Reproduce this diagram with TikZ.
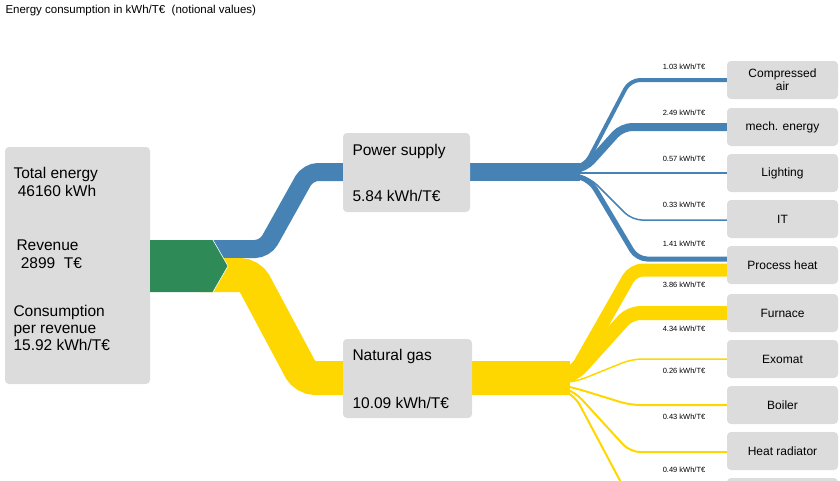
\documentclass[tikz,border=0pt]{standalone}
\usepackage{fontspec}
\setmainfont{Liberation Sans}
\begin{document}
\begin{tikzpicture}[x=1pt,y=-1pt,
  box/.style={fill=boxgray,rounded corners=4pt,inner sep=0pt},
  blue/.style={draw=flowblue,line width=#1,rounded corners=10pt},
  yel/.style={draw=flowyel,line width=#1,rounded corners=10pt},
  val/.style={font=\fontsize{7.5}{9}\selectfont,anchor=center},
  tgt/.style={font=\fontsize{12}{13}\selectfont,align=center}]
\definecolor{boxgray}{HTML}{DCDCDC}
\definecolor{flowblue}{HTML}{4682B4}
\definecolor{flowyel}{HTML}{FFD700}
\definecolor{green}{HTML}{2E8B57}
\useasboundingbox (0,0) rectangle (840,480);
\clip (0,0) rectangle (840,480);
\node[anchor=west,font=\fontsize{11.5}{13}\selectfont] (title) at (2,11) {Energy consumption in kWh/T€ \ (notional values)};
% boxes
\fill[boxgray,rounded corners=4pt] (5,147) rectangle (150,384);
\node[anchor=west,font=\fontsize{15.5}{17}\selectfont,align=left] (total) at (10,182) {Total energy\\[1pt]\ 46160 kWh};
\node[anchor=west,font=\fontsize{15.5}{17}\selectfont,align=left] (rev) at (13,254) {Revenue\\[1pt]\ 2899 \ T€};
\node[anchor=west,font=\fontsize{15.5}{17}\selectfont,align=left] (cons) at (10,328) {Consumption\\per revenue\\15.92 kWh/T€};
% main flows
\draw[blue=18pt] (200,249)--(265,249)--(308,172)--(350,172);
\draw[yel=34pt] (200,275)--(250,275)--(305,378)--(350,378);
\fill[green] (150,240)--(213,240)--(228,266)--(213,292)--(150,292)--cycle;
\draw[white,line width=0.6pt] (213,240)--(228,266)--(213,292);
% hubs
\draw[blue=18pt] (460,172)--(580,172);
\draw[yel=34pt] (460,378)--(570,378);
\coordinate (bh) at (578,172);
\coordinate (yh) at (566,380);
% blue branches
\draw[blue=4pt] (570,168)--(585,166)--(630,80)--(727,80);
\draw[blue=8pt] (570,170)--(585,168)--(622,127)--(727,127);
\draw[blue=2pt] (575,173)--(630,173)--(727,173);
\draw[blue=1.5pt] (575,174)--(590,178)--(632,220)--(727,220);
\draw[blue=5pt] (575,176)--(590,180)--(637,259)--(727,259);
% yellow branches
\draw[yel=13pt] (560,376)--(575,372)--(633,270)--(727,270);
\draw[yel=14pt] (560,378)--(575,374)--(630,313)--(727,313);
\draw[yel=1.5pt] (560,382)--(575,382)--(632,359)--(727,359);
\draw[yel=2pt] (560,385)--(575,388)--(630,405)--(727,405);
\draw[yel=2pt] (560,387)--(575,392)--(630,452)--(727,452);
\draw[yel=2pt] (560,389)--(575,396)--(625,490);
% source boxes
\node[box,minimum width=127pt,minimum height=79pt] (ps) at (406.5,172.5) {};
\node[anchor=west,font=\fontsize{15.5}{17}\selectfont] at (349,151) {Power supply};
\node[anchor=west,font=\fontsize{15.5}{17}\selectfont] at (349,196) {5.84 kWh/T€};
\node[box,minimum width=129pt,minimum height=79pt] (ng) at (407.5,378.5) {};
\node[anchor=west,font=\fontsize{15.5}{17}\selectfont] at (349,356) {Natural gas};
\node[anchor=west,font=\fontsize{15.5}{17}\selectfont] at (349,403) {10.09 kWh/T€};
% target boxes
\foreach \n/\y/\t in {ca/80/{Compressed\\air},me/127/{mech. energy},li/173/Lighting,it/219/IT,ph/265/Process heat,fu/313/Furnace,ex/359/Exomat,bo/405/Boiler,hr/451/Heat radiator,xx/497/{}}{
  \node[box,minimum width=111pt,minimum height=38pt] (\n) at (782.5,\y) {};
  \node[tgt] at (782.5,\y) {\t};
}
% values
\node[val] at (684,67) {1.03 kWh/T€};
\node[val] at (684,113) {2.49 kWh/T€};
\node[val] at (684,159) {0.57 kWh/T€};
\node[val] at (684,205) {0.33 kWh/T€};
\node[val] at (684,244) {1.41 kWh/T€};
\node[val] at (684,285) {3.86 kWh/T€};
\node[val] at (684,329) {4.34 kWh/T€};
\node[val] at (684,371) {0.26 kWh/T€};
\node[val] at (684,417) {0.43 kWh/T€};
\node[val] at (684,470) {0.49 kWh/T€};
\end{tikzpicture}
\end{document}
